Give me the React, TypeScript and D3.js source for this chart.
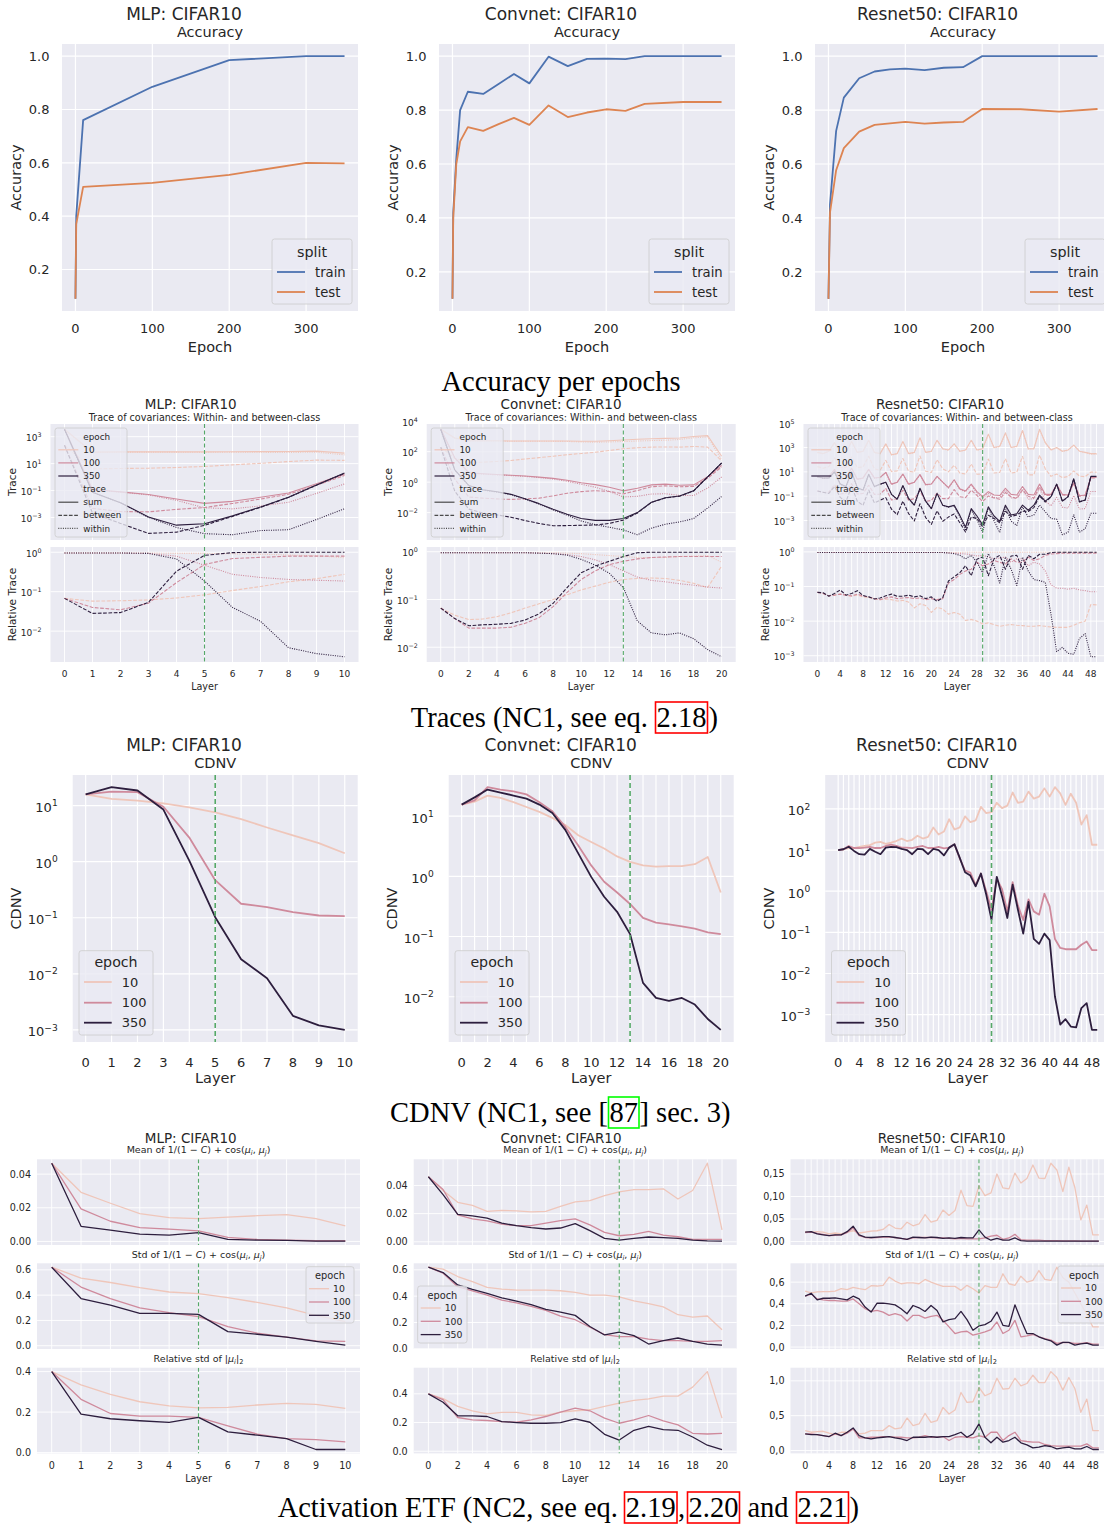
import React from "react";
import * as d3 from "d3";

/* ---------- page, colours, fonts ---------- */
const W = 1104;
const H = 1524;
const PANEL_BG = "#eaeaf2";
const INK = "#262626";
const EPOCH_COLORS = ["#efc6ba", "#cf8a9c", "#2d1e3e"];
const TRAIN_C = "#4c72b0";
const TEST_C = "#dd8452";
const MARK_C = "#55a868";
const STYLE_C = "#4a4a4a";
const SANS = "'DejaVu Sans', Verdana, sans-serif";
const SERIF = "'Liberation Serif', 'Times New Roman', serif";
const DASH = "3.7,1.6";
const DOT = "1,1.3";

/* ---------- legend labels ---------- */
const epochLevels = ["10", "100", "350"];
const splitNames = ["train", "test"];
const traceKinds = ["sum", "between", "within"];

/* ---------- accuracy per epoch ---------- */
const mlpEpochs = [0, 1, 10, 100, 200, 300, 350];
const mlpTrain = [0.09, 0.4, 0.76, 0.885, 0.985, 1.0, 1.0];
const mlpTest = [0.09, 0.37, 0.51, 0.525, 0.555, 0.6, 0.598];
const convEpochs = [0, 1, 5, 10, 20, 40, 60, 80, 100, 125, 150, 175, 200, 225, 250, 300, 350];
const convTrain = [0.1, 0.42, 0.62, 0.8, 0.868, 0.86, 0.897, 0.934, 0.899, 0.998, 0.963, 0.99, 0.991, 0.989, 1.0, 1.0, 1.0];
const convTest = [0.1, 0.4, 0.6, 0.684, 0.737, 0.723, 0.748, 0.771, 0.745, 0.817, 0.774, 0.791, 0.803, 0.797, 0.823, 0.83, 0.83];
const resEpochs = [0, 2, 10, 20, 40, 60, 80, 100, 125, 150, 175, 200, 250, 300, 350];
const resTrain = [0.1, 0.45, 0.723, 0.846, 0.918, 0.943, 0.951, 0.954, 0.948, 0.957, 0.959, 1.0, 1.0, 1.0, 1.0];
const resTest = [0.1, 0.42, 0.577, 0.659, 0.72, 0.745, 0.751, 0.756, 0.75, 0.754, 0.756, 0.804, 0.803, 0.794, 0.804];
const accYTicks = [0.2, 0.4, 0.6, 0.8, 1.0];
const accYLabels = ["0.2", "0.4", "0.6", "0.8", "1.0"];
const accXTicks = [0, 100, 200, 300];

/* ---------- layers ---------- */
const mlpLayers = d3.range(11);
const convLayers = d3.range(21);
const resLayers = d3.range(50);
const mlpLayerTicks = d3.range(0, 11, 1);
const convLayerTicks = d3.range(0, 21, 2);
const resLayerTicks = d3.range(0, 49, 4);

/* ---------- traces (log10 of trace) ---------- */
const mlpSum10 = [3.55, 1.85, 1.87, 1.87, 1.87, 1.87, 1.88, 1.89, 1.9, 1.93, 1.78];
const mlpBetween10 = [2.36, 0.61, 0.64, 0.66, 0.71, 0.79, 0.91, 1.02, 1.15, 1.26, 1.24];
const mlpWithin10 = [3.52, 1.83, 1.85, 1.85, 1.85, 1.84, 1.84, 1.84, 1.83, 1.85, 1.65];
const mlpSum100 = [3.55, -0.92, -1.1, -1.29, -1.63, -1.95, -1.8, -1.5, -1.18, -0.5, 0.22];
const mlpBetween100 = [2.36, -2.32, -2.56, -2.58, -2.4, -2.26, -1.96, -1.63, -1.28, -0.6, 0.12];
const mlpWithin100 = [3.52, -0.94, -1.12, -1.32, -1.73, -2.28, -2.36, -2.14, -1.87, -1.21, -0.51];
const mlpSum350 = [3.55, -1.12, -1.9, -2.96, -3.57, -3.47, -2.88, -2.22, -1.49, -0.58, 0.3];
const mlpBetween350 = [2.36, -2.67, -3.44, -4.18, -4.09, -3.58, -2.92, -2.25, -1.51, -0.6, 0.28];
const mlpWithin350 = [3.52, -1.13, -1.91, -2.99, -3.74, -4.2, -4.28, -3.97, -3.91, -3.15, -2.35];
const mlpRelBetween10 = [-1.17, -1.24, -1.23, -1.21, -1.16, -1.08, -0.97, -0.87, -0.75, -0.67, -0.56];
const mlpRelWithin10 = [-0.02, -0.02, -0.02, -0.02, -0.03, -0.03, -0.04, -0.05, -0.07, -0.09, -0.14];
const mlpRelBetween100 = [-1.17, -1.4, -1.46, -1.29, -0.77, -0.31, -0.16, -0.13, -0.1, -0.1, -0.1];
const mlpRelWithin100 = [-0.02, -0.02, -0.02, -0.03, -0.1, -0.33, -0.56, -0.64, -0.69, -0.71, -0.73];
const mlpRelBetween350 = [-1.17, -1.55, -1.53, -1.27, -0.48, -0.08, -0.01, 0, 0, 0, 0];
const mlpRelWithin350 = [-0.02, -0.02, -0.02, -0.03, -0.17, -0.73, -1.4, -1.75, -2.42, -2.57, -2.65];

const convSum10 = [3.47, 2.9, 2.72, 2.72, 2.72, 2.7, 2.7, 2.7, 2.7, 2.7, 2.68, 2.68, 2.72, 2.77, 2.82, 2.85, 2.87, 2.9, 3.0, 3.05, 1.7];
const convBetween10 = [2.29, 1.57, 1.3, 1.31, 1.36, 1.42, 1.52, 1.61, 1.7, 1.8, 1.88, 1.96, 2.08, 2.19, 2.26, 2.3, 2.31, 2.3, 2.34, 2.3, 1.4];
const convWithin10 = [3.45, 2.88, 2.7, 2.7, 2.7, 2.68, 2.68, 2.68, 2.68, 2.67, 2.64, 2.62, 2.64, 2.67, 2.7, 2.73, 2.75, 2.8, 2.91, 2.97, 1.48];
const convSum100 = [3.47, 1.6, 0.62, 0.55, 0.5, 0.45, 0.4, 0.33, 0.25, 0.12, -0.04, -0.16, -0.34, -0.57, -0.4, -0.18, -0.13, -0.2, -0.18, 0.35, 1.1];
const convBetween100 = [2.29, 0.2, -0.98, -1.05, -1.1, -1.13, -1.1, -1.05, -0.9, -0.73, -0.62, -0.56, -0.61, -0.77, -0.55, -0.3, -0.24, -0.3, -0.28, 0.25, 1.0];
const convWithin100 = [3.45, 1.58, 0.6, 0.53, 0.48, 0.43, 0.38, 0.3, 0.21, 0.06, -0.14, -0.33, -0.61, -0.97, -0.93, -0.78, -0.76, -0.87, -0.88, -0.39, 0.34];
const convSum350 = [3.47, 0.8, -0.22, -0.5, -0.63, -0.8, -1.09, -1.41, -1.78, -2.1, -2.39, -2.51, -2.51, -2.39, -2.0, -1.32, -1.02, -0.91, -0.57, 0.35, 1.26];
const convBetween350 = [2.29, -0.6, -1.77, -2.03, -2.15, -2.3, -2.52, -2.71, -2.86, -2.85, -2.83, -2.81, -2.71, -2.49, -2.02, -1.33, -1.03, -0.92, -0.58, 0.34, 1.25];
const convWithin350 = [3.45, 0.78, -0.24, -0.52, -0.65, -0.82, -1.11, -1.44, -1.82, -2.17, -2.55, -2.79, -2.96, -3.14, -3.45, -3.02, -2.76, -2.61, -2.39, -1.7, -0.94];
const convRelBetween10 = [-1.18, -1.33, -1.42, -1.41, -1.36, -1.28, -1.18, -1.09, -1.0, -0.9, -0.8, -0.72, -0.64, -0.58, -0.56, -0.55, -0.56, -0.6, -0.66, -0.75, -0.3];
const convRelWithin10 = [-0.02, -0.02, -0.02, -0.02, -0.02, -0.02, -0.02, -0.02, -0.02, -0.03, -0.04, -0.06, -0.08, -0.1, -0.12, -0.12, -0.12, -0.1, -0.09, -0.08, -0.22];
const convRelBetween100 = [-1.18, -1.4, -1.6, -1.6, -1.6, -1.58, -1.5, -1.38, -1.15, -0.85, -0.58, -0.4, -0.27, -0.2, -0.15, -0.12, -0.11, -0.1, -0.1, -0.1, -0.1];
const convRelWithin100 = [-0.02, -0.02, -0.02, -0.02, -0.02, -0.02, -0.02, -0.03, -0.04, -0.06, -0.1, -0.17, -0.27, -0.4, -0.53, -0.6, -0.63, -0.67, -0.7, -0.74, -0.76];
const convRelBetween350 = [-1.18, -1.4, -1.55, -1.53, -1.52, -1.5, -1.43, -1.3, -1.08, -0.75, -0.44, -0.3, -0.2, -0.1, -0.02, -0.01, -0.01, -0.01, -0.01, -0.01, -0.01];
const convRelWithin350 = [-0.02, -0.02, -0.02, -0.02, -0.02, -0.02, -0.02, -0.03, -0.04, -0.07, -0.16, -0.28, -0.45, -0.75, -1.45, -1.7, -1.74, -1.7, -1.82, -2.05, -2.2];

const resSum10 = [2.6, 2.5, 2.7, 3.4, 2.6, 2.6, 3.5, 2.6, 2.7, 3.6, 2.6, 2.5, 3.3, 2.4, 2.5, 3.5, 2.5, 2.6, 3.8, 2.6, 2.7, 3.6, 2.9, 2.8, 3.3, 2.7, 2.8, 3.6, 2.8, 2.9, 4.1, 3.0, 3.1, 4.2, 3.0, 3.1, 4.4, 2.9, 2.9, 4.5, 3.4, 2.8, 3.0, 2.7, 2.8, 3.2, 2.7, 2.6, 2.5, 2.5];
const resBetween10 = [1.43, 1.3, 1.43, 2.15, 1.38, 1.35, 2.22, 1.35, 1.4, 2.28, 1.25, 1.12, 1.94, 1.02, 1.08, 2.1, 1.05, 0.98, 2.3, 1.05, 0.95, 2.0, 1.25, 1.0, 1.55, 0.9, 0.82, 1.65, 0.8, 0.82, 2.05, 0.9, 0.95, 2.08, 0.9, 0.98, 2.27, 0.75, 0.75, 2.37, 1.25, 0.63, 0.82, 0.52, 0.62, 1.08, 0.65, 0.6, 0.98, 0.97];
const resWithin10 = [2.58, 2.48, 2.68, 3.38, 2.58, 2.58, 3.48, 2.58, 2.68, 3.58, 2.58, 2.48, 3.28, 2.38, 2.48, 3.48, 2.48, 2.58, 3.78, 2.58, 2.68, 3.58, 2.88, 2.78, 3.28, 2.68, 2.78, 3.58, 2.78, 2.88, 4.08, 2.98, 3.08, 4.18, 2.98, 3.08, 4.38, 2.88, 2.88, 4.48, 3.38, 2.78, 2.98, 2.68, 2.78, 3.18, 2.68, 2.58, 2.45, 2.45];
const resSum100 = [0.6, 0.5, 0.6, 1.2, 0.4, 0.5, 1.3, 0.4, 0.5, 1.2, 0.5, 0.55, 0.96, -0.01, 0.15, 0.82, -0.01, 0.15, 0.77, -0.05, 0.0, 0.63, 0.15, -0.3, 0.35, -0.4, -0.57, -0.01, -0.63, -1.04, -0.63, -0.9, -0.95, -0.35, -0.85, -0.9, -0.21, -0.85, -0.9, -0.01, -0.85, -0.85, -0.05, -0.85, -0.9, 0.1, -0.96, -0.9, 0.54, 0.54];
const resBetween100 = [-0.57, -0.7, -0.67, -0.05, -0.82, -0.75, 0.03, -0.82, -0.78, -0.1, -0.85, -0.83, -0.37, -1.31, -1.2, -0.51, -1.33, -1.2, -0.56, -1.43, -1.35, -0.75, -1.2, -1.2, -0.45, -1.05, -1.12, -0.51, -0.93, -1.44, -0.98, -1.15, -1.25, -0.7, -1.05, -1.2, -0.51, -1.0, -1.15, -0.21, -0.95, -0.91, -0.1, -0.89, -0.94, 0.06, -1.0, -0.94, 0.5, 0.5];
const resWithin100 = [0.58, 0.48, 0.58, 1.18, 0.38, 0.48, 1.28, 0.38, 0.48, 1.18, 0.48, 0.53, 0.94, -0.03, 0.13, 0.8, -0.03, 0.13, 0.75, -0.07, -0.02, 0.61, 0.13, -0.33, 0.31, -0.45, -0.63, -0.09, -0.75, -1.14, -0.78, -1.1, -1.13, -0.5, -1.15, -1.1, -0.41, -1.25, -1.2, -0.36, -1.4, -1.8, -1.1, -1.9, -1.98, -0.95, -2.06, -2.02, -0.61, -0.61];
const resSum350 = [0.6, 0.5, 0.5, 1.0, 0.0, -0.2, 1.0, -0.3, -0.5, 0.8, -0.2, -0.01, 0.15, -0.85, -1.24, -0.13, -1.18, -1.74, -0.35, -1.41, -2.02, -0.77, -1.74, -1.88, -1.74, -2.58, -3.55, -2.02, -2.63, -3.36, -1.88, -2.63, -3.08, -1.74, -2.55, -2.44, -1.74, -2.16, -1.74, -0.91, -1.41, -1.04, -0.01, -1.41, -1.04, 0.43, -1.46, -1.32, 0.63, 0.63];
const resBetween350 = [-0.57, -0.68, -0.78, -0.2, -1.1, -1.45, -0.2, -1.42, -1.76, -0.5, -1.56, -1.34, -1.12, -2.07, -2.52, -1.41, -2.43, -3.04, -1.62, -2.76, -3.32, -2.2, -3.06, -2.72, -2.46, -3.18, -3.95, -2.71, -2.84, -3.51, -2.57, -2.83, -3.18, -2.24, -2.67, -2.54, -2.24, -2.26, -1.94, -0.98, -1.48, -1.06, -0.02, -1.42, -1.05, 0.42, -1.47, -1.33, 0.62, 0.62];
const resWithin350 = [0.58, 0.48, 0.48, 0.98, -0.02, -0.22, 0.98, -0.32, -0.52, 0.78, -0.22, -0.03, 0.13, -0.87, -1.26, -0.15, -1.2, -1.76, -0.37, -1.43, -2.04, -0.79, -1.76, -1.91, -1.79, -2.68, -3.75, -2.12, -2.93, -3.96, -1.93, -3.03, -3.98, -1.89, -3.05, -3.41, -1.89, -2.71, -2.54, -1.74, -2.29, -2.84, -2.89, -4.17, -3.97, -2.53, -3.96, -3.68, -2.4, -2.4];
const resRelBetween10 = [-1.17, -1.2, -1.27, -1.25, -1.22, -1.25, -1.28, -1.25, -1.3, -1.32, -1.35, -1.38, -1.36, -1.38, -1.42, -1.4, -1.45, -1.62, -1.5, -1.55, -1.75, -1.6, -1.65, -1.8, -1.75, -1.8, -1.98, -1.95, -2.0, -2.08, -2.05, -2.1, -2.15, -2.12, -2.1, -2.12, -2.13, -2.15, -2.15, -2.13, -2.15, -2.17, -2.18, -2.18, -2.18, -2.12, -2.05, -2.0, -1.52, -1.53];
const resRelWithin10 = [-0.02, -0.02, -0.02, -0.02, -0.02, -0.02, -0.02, -0.02, -0.02, -0.02, -0.02, -0.02, -0.02, -0.02, -0.02, -0.02, -0.02, -0.02, -0.02, -0.02, -0.02, -0.02, -0.02, -0.02, -0.02, -0.02, -0.01, -0.01, -0.01, -0.01, -0.01, -0.01, -0.01, -0.01, -0.01, -0.01, -0.01, -0.01, -0.01, -0.01, -0.01, -0.01, -0.01, -0.01, -0.01, -0.01, -0.01, -0.01, -0.02, -0.02];
const resRelBetween100 = [-1.17, -1.2, -1.27, -1.25, -1.22, -1.25, -1.27, -1.22, -1.28, -1.3, -1.35, -1.38, -1.33, -1.3, -1.35, -1.33, -1.32, -1.35, -1.33, -1.38, -1.35, -1.38, -1.35, -0.9, -0.8, -0.65, -0.55, -0.5, -0.3, -0.4, -0.35, -0.25, -0.3, -0.35, -0.2, -0.3, -0.3, -0.15, -0.25, -0.2, -0.1, -0.06, -0.05, -0.04, -0.04, -0.04, -0.04, -0.04, -0.04, -0.04];
const resRelWithin100 = [-0.02, -0.02, -0.02, -0.02, -0.02, -0.02, -0.02, -0.02, -0.02, -0.02, -0.02, -0.02, -0.02, -0.02, -0.02, -0.02, -0.02, -0.02, -0.02, -0.02, -0.02, -0.02, -0.02, -0.03, -0.04, -0.05, -0.06, -0.08, -0.12, -0.1, -0.15, -0.2, -0.18, -0.15, -0.3, -0.2, -0.2, -0.4, -0.3, -0.35, -0.55, -0.95, -1.05, -1.05, -1.08, -1.05, -1.1, -1.12, -1.15, -1.15];
const resRelBetween350 = [-1.17, -1.18, -1.28, -1.2, -1.1, -1.25, -1.2, -1.12, -1.26, -1.3, -1.36, -1.33, -1.27, -1.22, -1.28, -1.28, -1.25, -1.3, -1.27, -1.35, -1.3, -1.43, -1.32, -0.84, -0.72, -0.6, -0.4, -0.69, -0.21, -0.15, -0.69, -0.2, -0.1, -0.5, -0.12, -0.1, -0.5, -0.1, -0.2, -0.07, -0.07, -0.02, -0.01, -0.01, -0.01, -0.01, -0.01, -0.01, -0.01, -0.01];
const resRelWithin350 = [-0.02, -0.02, -0.02, -0.02, -0.02, -0.02, -0.02, -0.02, -0.02, -0.02, -0.02, -0.02, -0.02, -0.02, -0.02, -0.02, -0.02, -0.02, -0.02, -0.02, -0.02, -0.02, -0.02, -0.03, -0.05, -0.1, -0.2, -0.1, -0.3, -0.6, -0.05, -0.4, -0.9, -0.15, -0.5, -0.97, -0.15, -0.55, -0.8, -0.83, -0.88, -1.8, -2.88, -2.76, -2.93, -2.96, -2.5, -2.36, -3.03, -3.03];

const mlpTraceExp = [3, 1, -1, -3];
const convTraceExp = [4, 2, 0, -2];
const resTraceExp = [5, 3, 1, -1, -3];
const mlpRelExp = [0, -1, -2];
const convRelExp = [0, -1, -2];
const resRelExp = [0, -1, -2, -3];

/* ---------- CDNV (log10) ---------- */
const mlpCdnv10 = [1.2, 1.12, 1.09, 1.04, 0.97, 0.88, 0.76, 0.61, 0.47, 0.33, 0.15];
const mlpCdnv100 = [1.2, 1.25, 1.24, 0.98, 0.43, -0.33, -0.75, -0.81, -0.9, -0.96, -0.97];
const mlpCdnv350 = [1.2, 1.33, 1.27, 0.93, 0.02, -0.99, -1.74, -2.08, -2.75, -2.92, -3.0];
const convCdnv10 = [1.19, 1.24, 1.34, 1.3, 1.23, 1.15, 1.07, 0.97, 0.85, 0.68, 0.57, 0.46, 0.33, 0.24, 0.18, 0.16, 0.17, 0.17, 0.2, 0.32, -0.27];
const convCdnv100 = [1.19, 1.26, 1.48, 1.44, 1.41, 1.36, 1.23, 1.08, 0.82, 0.51, 0.18, -0.09, -0.27, -0.46, -0.69, -0.77, -0.8, -0.83, -0.87, -0.93, -0.96];
const convCdnv350 = [1.19, 1.31, 1.44, 1.39, 1.34, 1.29, 1.19, 1.05, 0.77, 0.38, -0.01, -0.34, -0.59, -0.96, -1.77, -2.02, -2.07, -2.02, -2.13, -2.37, -2.55];
const resCdnv10 = [1.0, 1.02, 1.05, 1.05, 1.08, 1.1, 1.12, 1.18, 1.2, 1.15, 1.18, 1.22, 1.28, 1.22, 1.25, 1.35, 1.28, 1.32, 1.55, 1.38, 1.45, 1.75, 1.5, 1.55, 1.82, 1.68, 1.72, 2.05, 1.9, 1.92, 2.15, 2.02, 2.08, 2.4, 2.15, 2.18, 2.42, 2.25, 2.3, 2.5, 2.3, 2.53, 2.38, 2.1, 2.37, 2.15, 1.62, 1.85, 1.13, 1.13];
const resCdnv100 = [1.0, 1.02, 1.1, 1.05, 1.05, 1.06, 1.08, 1.05, 1.05, 1.1, 1.13, 1.1, 1.06, 1.06, 1.05, 1.08, 1.1, 1.05, 1.05, 1.08, 1.04, 1.06, 1.14, 0.8, 0.5, 0.45, 0.15, 0.43, 0.0, -0.45, 0.3, 0.05, -0.5, 0.22, -0.35, -0.7, -0.2, -0.49, -0.57, -0.06, -0.37, -1.16, -1.38, -1.41, -1.41, -1.41, -1.3, -1.22, -1.43, -1.43];
const resCdnv350 = [1.0, 1.02, 1.08, 0.98, 0.9, 0.89, 1.03, 0.96, 0.9, 1.06, 1.08, 1.07, 1.03, 1.0, 0.9, 1.03, 1.02, 0.9, 1.03, 1.0, 0.87, 1.06, 1.14, 0.81, 0.46, 0.38, 0.12, 0.43, -0.08, -0.69, 0.35, -0.12, -0.65, 0.16, -0.45, -1.03, -0.26, -1.16, -1.28, -1.03, -1.19, -2.56, -3.24, -3.11, -3.29, -3.31, -2.84, -2.72, -3.37, -3.37];
const mlpCdnvExp = [1, 0, -1, -2, -3];
const convCdnvExp = [1, 0, -1, -2];
const resCdnvExp = [2, 1, 0, -1, -2, -3];

/* ---------- activation ETF ---------- */
const mlpMean10 = [0.0465, 0.0292, 0.0227, 0.0165, 0.0141, 0.0135, 0.0145, 0.0153, 0.0159, 0.0135, 0.0092];
const mlpMean100 = [0.0465, 0.0194, 0.012, 0.0082, 0.0073, 0.0063, 0.0024, 0.0012, 0.0008, 0.0004, 0.0004];
const mlpMean350 = [0.0465, 0.009, 0.0067, 0.0043, 0.0037, 0.0053, 0.0012, 0.0008, 0.0006, 0.0002, 0.0002];
const mlpStd10 = [0.621, 0.535, 0.5, 0.459, 0.425, 0.412, 0.381, 0.342, 0.3, 0.24, 0.19];
const mlpStd100 = [0.621, 0.464, 0.373, 0.3, 0.261, 0.23, 0.151, 0.099, 0.068, 0.039, 0.034];
const mlpStd350 = [0.621, 0.373, 0.321, 0.256, 0.256, 0.248, 0.112, 0.091, 0.068, 0.034, 0.005];
const mlpNorm10 = [0.4, 0.334, 0.288, 0.251, 0.231, 0.221, 0.223, 0.235, 0.243, 0.238, 0.218];
const mlpNorm100 = [0.4, 0.263, 0.193, 0.18, 0.18, 0.174, 0.132, 0.091, 0.069, 0.064, 0.053];
const mlpNorm350 = [0.4, 0.19, 0.167, 0.157, 0.149, 0.174, 0.102, 0.086, 0.069, 0.015, 0.015];

const convMean10 = [0.0462, 0.0364, 0.028, 0.0259, 0.0216, 0.0223, 0.022, 0.0213, 0.0216, 0.0251, 0.0283, 0.0292, 0.0328, 0.0354, 0.0371, 0.0371, 0.0376, 0.0304, 0.0364, 0.0558, 0.0084];
const convMean100 = [0.0462, 0.0371, 0.0192, 0.0163, 0.0149, 0.0125, 0.0115, 0.0115, 0.0132, 0.0151, 0.0163, 0.012, 0.0067, 0.0043, 0.0053, 0.0074, 0.0048, 0.0036, 0.0017, 0.0017, 0.0017];
const convMean350 = [0.0462, 0.0335, 0.0194, 0.0184, 0.0168, 0.0132, 0.0115, 0.0101, 0.0091, 0.0098, 0.0129, 0.0079, 0.0024, 0.0012, 0.0024, 0.0034, 0.0029, 0.0024, 0.0012, 0.0007, 0.0005];
const convStd10 = [0.62, 0.605, 0.549, 0.51, 0.467, 0.454, 0.446, 0.446, 0.446, 0.441, 0.428, 0.408, 0.408, 0.395, 0.364, 0.344, 0.318, 0.259, 0.241, 0.249, 0.144];
const convStd100 = [0.62, 0.574, 0.472, 0.441, 0.408, 0.369, 0.349, 0.323, 0.292, 0.249, 0.221, 0.164, 0.108, 0.092, 0.092, 0.074, 0.062, 0.062, 0.056, 0.056, 0.062];
const convStd350 = [0.62, 0.579, 0.485, 0.451, 0.421, 0.387, 0.362, 0.336, 0.3, 0.279, 0.254, 0.169, 0.105, 0.126, 0.1, 0.036, 0.062, 0.082, 0.056, 0.036, 0.028];
const convNorm10 = [0.4, 0.367, 0.313, 0.282, 0.261, 0.271, 0.271, 0.254, 0.249, 0.273, 0.282, 0.289, 0.313, 0.336, 0.355, 0.365, 0.384, 0.384, 0.447, 0.555, 0.231];
const convNorm100 = [0.4, 0.36, 0.235, 0.219, 0.214, 0.207, 0.202, 0.219, 0.242, 0.273, 0.301, 0.282, 0.231, 0.195, 0.219, 0.249, 0.212, 0.184, 0.125, 0.12, 0.125];
const convNorm350 = [0.4, 0.341, 0.247, 0.247, 0.242, 0.207, 0.2, 0.195, 0.195, 0.2, 0.226, 0.202, 0.118, 0.078, 0.146, 0.174, 0.151, 0.146, 0.099, 0.042, 0.012];

const resMean10 = [0.022, 0.021, 0.022, 0.021, 0.017, 0.019, 0.017, 0.021, 0.024, 0.019, 0.021, 0.023, 0.024, 0.027, 0.038, 0.03, 0.028, 0.043, 0.035, 0.039, 0.06, 0.043, 0.047, 0.07, 0.058, 0.069, 0.114, 0.08, 0.078, 0.124, 0.102, 0.108, 0.15, 0.119, 0.117, 0.152, 0.13, 0.14, 0.17, 0.141, 0.14, 0.174, 0.159, 0.111, 0.165, 0.12, 0.048, 0.081, 0.015, 0.015];
const resMean100 = [0.02, 0.021, 0.018, 0.016, 0.013, 0.014, 0.015, 0.02, 0.03, 0.013, 0.009, 0.008, 0.009, 0.01, 0.01, 0.009, 0.007, 0.005, 0.008, 0.009, 0.009, 0.009, 0.008, 0.008, 0.007, 0.006, 0.007, 0.006, 0.006, 0.006, 0.008, 0.012, 0.014, 0.005, 0.008, 0.016, 0.004, 0.003, 0.003, 0.003, 0.002, 0.002, 0.002, 0.0015, 0.0015, 0.0015, 0.001, 0.001, 0.001, 0.001];
const resMean350 = [0.021, 0.022, 0.017, 0.015, 0.013, 0.015, 0.015, 0.022, 0.034, 0.015, 0.01, 0.009, 0.01, 0.011, 0.011, 0.009, 0.007, 0.005, 0.01, 0.009, 0.008, 0.01, 0.009, 0.007, 0.008, 0.007, 0.009, 0.008, 0.008, 0.026, 0.01, 0.003, 0.007, 0.003, 0.003, 0.008, 0.002, 0.001, 0.001, 0.001, 0.001, 0.001, 0.001, 0.001, 0.001, 0.001, 0.001, 0.001, 0.001, 0.001];
const resStd10 = [0.517, 0.5, 0.509, 0.512, 0.512, 0.517, 0.539, 0.53, 0.552, 0.539, 0.53, 0.567, 0.564, 0.57, 0.646, 0.61, 0.585, 0.594, 0.594, 0.585, 0.625, 0.6, 0.58, 0.561, 0.561, 0.561, 0.524, 0.57, 0.539, 0.5, 0.567, 0.552, 0.552, 0.677, 0.585, 0.57, 0.655, 0.6, 0.616, 0.707, 0.625, 0.616, 0.738, 0.64, 0.6, 0.5, 0.4, 0.3, 0.186, 0.186];
const resStd100 = [0.47, 0.49, 0.445, 0.436, 0.43, 0.43, 0.424, 0.424, 0.445, 0.4, 0.354, 0.329, 0.338, 0.323, 0.293, 0.308, 0.293, 0.241, 0.293, 0.293, 0.268, 0.284, 0.293, 0.247, 0.186, 0.125, 0.14, 0.146, 0.11, 0.125, 0.14, 0.162, 0.232, 0.125, 0.155, 0.247, 0.095, 0.104, 0.116, 0.095, 0.079, 0.064, 0.034, 0.043, 0.04, 0.034, 0.034, 0.04, 0.027, 0.027];
const resStd350 = [0.47, 0.497, 0.436, 0.451, 0.451, 0.454, 0.445, 0.436, 0.47, 0.445, 0.369, 0.323, 0.405, 0.405, 0.399, 0.39, 0.354, 0.308, 0.384, 0.363, 0.329, 0.384, 0.338, 0.232, 0.253, 0.262, 0.329, 0.253, 0.155, 0.195, 0.207, 0.238, 0.323, 0.201, 0.192, 0.39, 0.253, 0.125, 0.125, 0.095, 0.073, 0.058, 0.018, 0.043, 0.043, 0.018, 0.03, 0.036, 0.018, 0.018];
const resNorm10 = [0.286, 0.262, 0.271, 0.276, 0.248, 0.229, 0.262, 0.262, 0.31, 0.238, 0.248, 0.286, 0.286, 0.286, 0.357, 0.31, 0.324, 0.467, 0.357, 0.381, 0.533, 0.405, 0.429, 0.619, 0.524, 0.581, 0.833, 0.69, 0.7, 0.905, 0.786, 0.824, 1.038, 0.881, 0.89, 1.038, 0.929, 0.962, 1.081, 0.976, 0.976, 1.133, 1.048, 0.867, 1.048, 0.89, 0.548, 0.738, 0.286, 0.286];
const resNorm100 = [0.238, 0.238, 0.229, 0.214, 0.2, 0.238, 0.214, 0.248, 0.31, 0.181, 0.181, 0.19, 0.19, 0.2, 0.2, 0.19, 0.19, 0.181, 0.181, 0.19, 0.214, 0.19, 0.19, 0.2, 0.143, 0.19, 0.2, 0.19, 0.181, 0.214, 0.19, 0.262, 0.262, 0.143, 0.214, 0.262, 0.143, 0.129, 0.119, 0.119, 0.086, 0.071, 0.062, 0.062, 0.062, 0.062, 0.062, 0.095, 0.038, 0.038];
const resNorm350 = [0.238, 0.229, 0.229, 0.214, 0.2, 0.248, 0.214, 0.262, 0.324, 0.214, 0.181, 0.167, 0.181, 0.19, 0.2, 0.181, 0.167, 0.143, 0.19, 0.19, 0.19, 0.2, 0.19, 0.2, 0.2, 0.229, 0.262, 0.19, 0.238, 0.381, 0.19, 0.11, 0.19, 0.119, 0.143, 0.19, 0.11, 0.081, 0.038, 0.048, 0.071, 0.057, 0.024, 0.038, 0.048, 0.024, 0.024, 0.057, 0.014, 0.014];

const meanTicks = [0, 0.02, 0.04];
const meanLabels = ["0.00", "0.02", "0.04"];
const resMeanTicks = [0, 0.05, 0.1, 0.15];
const resMeanLabels = ["0,00", "0,05", "0,10", "0,15"];
const stdTicks = [0, 0.2, 0.4, 0.6];
const stdLabels = ["0.0", "0.2", "0.4", "0.6"];
const resStdLabels = ["0,0", "0,2", "0,4", "0,6"];
const normTicks = [0, 0.2, 0.4];
const normLabels = ["0.0", "0.2", "0.4"];
const resNormTicks = [0, 0.5, 1.0];
const resNormLabels = ["0,0", "0,5", "1,0"];

/* ---------- generic axes ---------- */
type Series = { xs: number[]; ys: number[]; color: string; width: number; dash?: string };

type AxesSpec = {
  id: string;
  left: number;
  top: number;
  width: number;
  height: number;
  series: Series[];
  log?: boolean;
  xGrid: number[];
  yTicks: number[];
  yTickLabels?: string[];
  tickFs: number;
  tickGap: number;
  gridW: number;
  xTicks?: number[];
  xTickY?: number;
  marker?: number;
  markerW?: number;
  markerDash?: string;
  yLabel?: string;
  yLabelX?: number;
  yLabelFs?: number;
};

const fmtExp = (e: number) => (e < 0 ? "\u2212" + Math.abs(e) : String(e));
const p10 = (e: number) => Math.pow(10, e);

function Axes({ s }: { s: AxesSpec }) {
  const right = s.left + s.width;
  const bottom = s.top + s.height;
  const allX = s.series.flatMap((d) => d.xs);
  const [xa, xb] = d3.extent(allX) as [number, number];
  const xp = (xb - xa) * 0.05;
  const x = d3.scaleLinear().domain([xa - xp, xb + xp]).range([s.left, right]);
  const allY = s.series.flatMap((d) => d.ys);
  let y: (v: number) => number;
  if (s.log) {
    const [a, b] = d3.extent(allY.map((v) => Math.log10(v))) as [number, number];
    const p = (b - a) * 0.05;
    const sc = d3.scaleLog().domain([p10(a - p), p10(b + p)]).range([bottom, s.top]);
    y = (v) => sc(v);
  } else {
    const [a, b] = d3.extent(allY) as [number, number];
    const p = (b - a) * 0.05;
    const sc = d3.scaleLinear().domain([a - p, b + p]).range([bottom, s.top]);
    y = (v) => sc(v);
  }
  const tickPos = (t: number) => (s.log ? y(p10(t)) : y(t));
  const path = d3
    .line<[number, number]>()
    .x((d) => x(d[0]))
    .y((d) => y(d[1]));
  const fs = s.tickFs;
  return (
    <g>
      <defs>
        <clipPath id={s.id}>
          <rect x={s.left} y={s.top} width={s.width} height={s.height} />
        </clipPath>
      </defs>
      <rect x={s.left} y={s.top} width={s.width} height={s.height} fill={PANEL_BG} />
      {s.xGrid.map((g) => (
        <line key={"gx" + g} x1={x(g)} x2={x(g)} y1={s.top} y2={bottom} stroke="#fff" strokeWidth={s.gridW} />
      ))}
      {s.yTicks.map((t) => (
        <line key={"gy" + t} x1={s.left} x2={right} y1={tickPos(t)} y2={tickPos(t)} stroke="#fff" strokeWidth={s.gridW} />
      ))}
      <g clipPath={`url(#${s.id})`}>
        {s.series.map((d, i) => (
          <path
            key={i}
            d={path(d.xs.map((v, j) => [v, d.ys[j]] as [number, number])) || ""}
            fill="none"
            stroke={d.color}
            strokeWidth={d.width}
            strokeDasharray={d.dash}
            strokeLinejoin="round"
          />
        ))}
        {s.marker !== undefined && (
          <line
            x1={x(s.marker)}
            x2={x(s.marker)}
            y1={s.top}
            y2={bottom}
            stroke={MARK_C}
            strokeWidth={s.markerW}
            strokeDasharray={s.markerDash}
          />
        )}
      </g>
      {s.yTicks.map((t, i) =>
        s.log ? (
          <text key={"yl" + i} x={s.left - s.tickGap} y={tickPos(t) + fs * 0.5} textAnchor="end" fontSize={fs} fill={INK}>
            10
            <tspan dy={-fs * 0.45} fontSize={fs * 0.7}>
              {fmtExp(t)}
            </tspan>
          </text>
        ) : (
          <text key={"yl" + i} x={s.left - s.tickGap} y={tickPos(t) + fs * 0.36} textAnchor="end" fontSize={fs} fill={INK}>
            {s.yTickLabels ? s.yTickLabels[i] : String(t)}
          </text>
        )
      )}
      {s.xTicks &&
        s.xTicks.map((t) => (
          <text key={"xl" + t} x={x(t)} y={s.xTickY} textAnchor="middle" fontSize={fs} fill={INK}>
            {t}
          </text>
        ))}
      {s.yLabel && (
        <text
          transform={`translate(${s.yLabelX},${(s.top + bottom) / 2}) rotate(-90)`}
          textAnchor="middle"
          dy="0.36em"
          fontSize={s.yLabelFs}
          fill={INK}
        >
          {s.yLabel}
        </text>
      )}
    </g>
  );
}

/* ---------- legend ---------- */
type LegendRow = { label: string; color?: string; dash?: string; heading?: boolean; centered?: boolean };

function Legend(props: {
  x: number;
  y: number;
  w: number;
  h: number;
  rows: LegendRow[];
  rowY: number[];
  lineX: [number, number];
  textX: number;
  fs: number;
  headFs: number;
  lineW: number;
}) {
  const { x, y, w, h, rows, rowY, lineX, textX, fs, headFs, lineW } = props;
  return (
    <g>
      <rect x={x} y={y} width={w} height={h} rx={2.5} fill={PANEL_BG} fillOpacity={0.8} stroke="#cccccc" strokeWidth={0.8} />
      {rows.map((r, i) => {
        const cy = y + rowY[i];
        const size = r.heading ? headFs : fs;
        return (
          <g key={i}>
            {r.color && (
              <line x1={x + lineX[0]} x2={x + lineX[1]} y1={cy} y2={cy} stroke={r.color} strokeWidth={lineW} strokeDasharray={r.dash} />
            )}
            <text
              x={r.centered ? x + w / 2 : x + textX}
              y={cy + size * 0.36}
              textAnchor={r.centered ? "middle" : "start"}
              fontSize={size}
              fill={INK}
            >
              {r.label}
            </text>
          </g>
        );
      })}
    </g>
  );
}

/* ---------- accuracy row ---------- */
const accPanels = [
  { key: "mlp", name: "MLP: CIFAR10", left: 62, supX: 184, ep: mlpEpochs, tr: mlpTrain, te: mlpTest },
  { key: "conv", name: "Convnet: CIFAR10", left: 439, supX: 561, ep: convEpochs, tr: convTrain, te: convTest },
  { key: "res", name: "Resnet50: CIFAR10", left: 815, supX: 937.5, ep: resEpochs, tr: resTrain, te: resTest },
];

function AccuracyRow() {
  const top = 44;
  const w = 296;
  const h = 267;
  return (
    <g>
      {accPanels.map((p) => {
        const spec: AxesSpec = {
          id: "acc-" + p.key,
          left: p.left,
          top,
          width: w,
          height: h,
          series: [
            { xs: p.ep, ys: p.tr, color: TRAIN_C, width: 1.8 },
            { xs: p.ep, ys: p.te, color: TEST_C, width: 1.8 },
          ],
          xGrid: accXTicks,
          yTicks: accYTicks,
          yTickLabels: accYLabels,
          tickFs: 13,
          tickGap: 12.5,
          gridW: 1.2,
          xTicks: accXTicks,
          xTickY: 333,
          yLabel: "Accuracy",
          yLabelX: p.left - 46.5,
          yLabelFs: 14.5,
        };
        const lx = p.left + 210;
        return (
          <g key={p.key}>
            <text x={p.supX} y={20} textAnchor="middle" fontSize={17} fill={INK}>
              {p.name}
            </text>
            <text x={p.left + w / 2} y={36.5} textAnchor="middle" fontSize={14.5} fill={INK}>
              Accuracy
            </text>
            <Axes s={spec} />
            <text x={p.left + w / 2} y={352} textAnchor="middle" fontSize={14.5} fill={INK}>
              Epoch
            </text>
            <Legend
              x={lx}
              y={239}
              w={80}
              h={65}
              rows={[
                { label: "split", heading: true, centered: true },
                { label: splitNames[0], color: TRAIN_C },
                { label: splitNames[1], color: TEST_C },
              ]}
              rowY={[13, 33, 53]}
              lineX={[5, 33]}
              textX={43}
              fs={13.2}
              headFs={14.3}
              lineW={1.8}
            />
          </g>
        );
      })}
    </g>
  );
}

/* ---------- traces row ---------- */
type TraceSet = number[][];
const trPanels = [
  {
    key: "mlp", name: "MLP: CIFAR10", left: 50.5, width: 308, supX: 190.7, layers: mlpLayers, ticks: mlpLayerTicks, mark: 5,
    sum: [mlpSum10, mlpSum100, mlpSum350], between: [mlpBetween10, mlpBetween100, mlpBetween350], within: [mlpWithin10, mlpWithin100, mlpWithin350],
    relB: [mlpRelBetween10, mlpRelBetween100, mlpRelBetween350], relW: [mlpRelWithin10, mlpRelWithin100, mlpRelWithin350],
    topExp: mlpTraceExp, relExp: mlpRelExp,
  },
  {
    key: "conv", name: "Convnet: CIFAR10", left: 426.7, width: 309, supX: 561, layers: convLayers, ticks: convLayerTicks, mark: 13,
    sum: [convSum10, convSum100, convSum350], between: [convBetween10, convBetween100, convBetween350], within: [convWithin10, convWithin100, convWithin350],
    relB: [convRelBetween10, convRelBetween100, convRelBetween350], relW: [convRelWithin10, convRelWithin100, convRelWithin350],
    topExp: convTraceExp, relExp: convRelExp,
  },
  {
    key: "res", name: "Resnet50: CIFAR10", left: 803.5, width: 307, supX: 940, layers: resLayers, ticks: resLayerTicks, mark: 29,
    sum: [resSum10, resSum100, resSum350], between: [resBetween10, resBetween100, resBetween350], within: [resWithin10, resWithin100, resWithin350],
    relB: [resRelBetween10, resRelBetween100, resRelBetween350], relW: [resRelWithin10, resRelWithin100, resRelWithin350],
    topExp: resTraceExp, relExp: resRelExp,
  },
];

function traceSeries(xs: number[], groups: { sets: TraceSet; dash?: string }[]): Series[] {
  const out: Series[] = [];
  for (let i = 0; i < 3; i++) {
    for (const g of groups) {
      out.push({ xs, ys: g.sets[i].map(p10), color: EPOCH_COLORS[i], width: 1.1, dash: g.dash });
    }
  }
  return out;
}

function TraceRow() {
  const topA = 424;
  const hA = 116;
  const topB = 547;
  const hB = 115;
  return (
    <g>
      {trPanels.map((p) => {
        const common = {
          left: p.left,
          width: p.width,
          xGrid: p.layers,
          tickFs: 9,
          tickGap: 9,
          gridW: 0.9,
          log: true,
          marker: p.mark,
          markerW: 1.1,
          markerDash: "4,2.5",
          yLabelX: p.left - 38,
          yLabelFs: 10.5,
        };
        const upper: AxesSpec = {
          ...common,
          id: "tr-a-" + p.key,
          top: topA,
          height: hA,
          series: traceSeries(p.layers, [{ sets: p.sum }, { sets: p.between, dash: DASH }, { sets: p.within, dash: DOT }]),
          yTicks: p.topExp,
          yLabel: "Trace",
        };
        const lower: AxesSpec = {
          ...common,
          id: "tr-b-" + p.key,
          top: topB,
          height: hB,
          series: traceSeries(p.layers, [{ sets: p.relB, dash: DASH }, { sets: p.relW, dash: DOT }]),
          yTicks: p.relExp,
          yLabel: "Relative Trace",
          xTicks: p.ticks,
          xTickY: 676.5,
        };
        const rows: LegendRow[] = [
          { label: "epoch", heading: true },
          { label: epochLevels[0], color: EPOCH_COLORS[0] },
          { label: epochLevels[1], color: EPOCH_COLORS[1] },
          { label: epochLevels[2], color: EPOCH_COLORS[2] },
          { label: "trace", heading: true },
          { label: traceKinds[0], color: STYLE_C },
          { label: traceKinds[1], color: STYLE_C, dash: DASH },
          { label: traceKinds[2], color: STYLE_C, dash: DOT },
        ];
        return (
          <g key={p.key}>
            <text x={p.supX} y={409} textAnchor="middle" fontSize={13.5} fill={INK}>
              {p.name}
            </text>
            <text x={p.left + p.width / 2} y={420.5} textAnchor="middle" fontSize={9.6} fill={INK}>
              Trace of covariances: Within- and between-class
            </text>
            <Axes s={upper} />
            <Legend
              x={p.left + 4.5}
              y={428}
              w={72}
              h={109}
              rows={rows}
              rowY={rows.map((_, i) => 8.7 + 13.1 * i)}
              lineX={[3.3, 23.3]}
              textX={28.3}
              fs={8.8}
              headFs={8.8}
              lineW={1.2}
            />
            <Axes s={lower} />
            <text x={p.left + p.width / 2} y={689.5} textAnchor="middle" fontSize={9.6} fill={INK}>
              Layer
            </text>
          </g>
        );
      })}
    </g>
  );
}

/* ---------- CDNV row ---------- */
const cdnvPanels = [
  { key: "mlp", name: "MLP: CIFAR10", left: 72.7, supX: 184, layers: mlpLayers, ticks: mlpLayerTicks, mark: 5, sets: [mlpCdnv10, mlpCdnv100, mlpCdnv350], exp: mlpCdnvExp },
  { key: "conv", name: "Convnet: CIFAR10", left: 448.7, supX: 560.7, layers: convLayers, ticks: convLayerTicks, mark: 13, sets: [convCdnv10, convCdnv100, convCdnv350], exp: convCdnvExp },
  { key: "res", name: "Resnet50: CIFAR10", left: 825.2, supX: 936.7, layers: resLayers, ticks: resLayerTicks, mark: 29, sets: [resCdnv10, resCdnv100, resCdnv350], exp: resCdnvExp },
];

function CdnvRow() {
  const top = 775;
  const w = 285;
  const h = 267;
  return (
    <g>
      {cdnvPanels.map((p) => {
        const spec: AxesSpec = {
          id: "cdnv-" + p.key,
          left: p.left,
          top,
          width: w,
          height: h,
          log: true,
          series: p.sets.map((v, i) => ({ xs: p.layers, ys: v.map(p10), color: EPOCH_COLORS[i], width: 1.8 })),
          xGrid: p.layers,
          yTicks: p.exp,
          tickFs: 13,
          tickGap: 15,
          gridW: 1.2,
          xTicks: p.ticks,
          xTickY: 1066.5,
          marker: p.mark,
          markerW: 1.6,
          markerDash: "5,3",
          yLabel: "CDNV",
          yLabelX: p.left - 56.5,
          yLabelFs: 14.5,
        };
        return (
          <g key={p.key}>
            <text x={p.supX} y={750.5} textAnchor="middle" fontSize={17} fill={INK}>
              {p.name}
            </text>
            <text x={p.left + w / 2} y={768} textAnchor="middle" fontSize={14.5} fill={INK}>
              CDNV
            </text>
            <Axes s={spec} />
            <text x={p.left + w / 2} y={1083} textAnchor="middle" fontSize={14.5} fill={INK}>
              Layer
            </text>
            <Legend
              x={p.left + 6.3}
              y={950.7}
              w={74}
              h={84.3}
              rows={[
                { label: "epoch", heading: true, centered: true },
                { label: epochLevels[0], color: EPOCH_COLORS[0] },
                { label: epochLevels[1], color: EPOCH_COLORS[1] },
                { label: epochLevels[2], color: EPOCH_COLORS[2] },
              ]}
              rowY={[11.3, 31.3, 52, 72]}
              lineX={[5, 32.7]}
              textX={42.7}
              fs={13}
              headFs={14.2}
              lineW={1.8}
            />
          </g>
        );
      })}
    </g>
  );
}

/* ---------- activation ETF row ---------- */
function MathTitle({ kind, x, y, fs }: { kind: "mean" | "std" | "norm"; x: number; y: number; fs: number }) {
  const d = fs * 0.22;
  if (kind === "norm") {
    return (
      <text x={x} y={y} textAnchor="middle" fontSize={fs} fill={INK}>
        {"Relative std of |"}
        <tspan fontStyle="italic">{"\u03bc"}</tspan>
        <tspan fontStyle="italic" fontSize={fs * 0.7} dy={d}>
          i
        </tspan>
        <tspan dy={-d}>{"|"}</tspan>
        <tspan fontSize={fs * 0.7} dy={d}>
          2
        </tspan>
      </text>
    );
  }
  return (
    <text x={x} y={y} textAnchor="middle" fontSize={fs} fill={INK}>
      {kind === "mean" ? "Mean of 1/(1 \u2212 " : "Std of 1/(1 \u2212 "}
      <tspan fontStyle="italic">C</tspan>
      {") + cos("}
      <tspan fontStyle="italic">{"\u03bc"}</tspan>
      <tspan fontStyle="italic" fontSize={fs * 0.7} dy={d}>
        i
      </tspan>
      <tspan dy={-d}>{", "}</tspan>
      <tspan fontStyle="italic">{"\u03bc"}</tspan>
      <tspan fontStyle="italic" fontSize={fs * 0.7} dy={d}>
        j
      </tspan>
      <tspan dy={-d}>{")"}</tspan>
    </text>
  );
}

const etfPanels = [
  {
    key: "mlp", name: "MLP: CIFAR10", left: 37, supX: 190.7, layers: mlpLayers, ticks: mlpLayerTicks, mark: 5,
    mean: [mlpMean10, mlpMean100, mlpMean350], std: [mlpStd10, mlpStd100, mlpStd350], norm: [mlpNorm10, mlpNorm100, mlpNorm350],
    meanT: meanTicks, meanL: meanLabels, stdT: stdTicks, stdL: stdLabels, normT: normTicks, normL: normLabels,
    legX: 269, legY: 3.4, legW: 48, legH: 56.3,
  },
  {
    key: "conv", name: "Convnet: CIFAR10", left: 413.7, supX: 561, layers: convLayers, ticks: convLayerTicks, mark: 13,
    mean: [convMean10, convMean100, convMean350], std: [convStd10, convStd100, convStd350], norm: [convNorm10, convNorm100, convNorm350],
    meanT: meanTicks, meanL: meanLabels, stdT: stdTicks, stdL: stdLabels, normT: normTicks, normL: normLabels,
    legX: 4, legY: 22.7, legW: 49.3, legH: 57,
  },
  {
    key: "res", name: "Resnet50: CIFAR10", left: 790.5, supX: 941.7, layers: resLayers, ticks: resLayerTicks, mark: 29,
    mean: [resMean10, resMean100, resMean350], std: [resStd10, resStd100, resStd350], norm: [resNorm10, resNorm100, resNorm350],
    meanT: resMeanTicks, meanL: resMeanLabels, stdT: stdTicks, stdL: resStdLabels, normT: resNormTicks, normL: resNormLabels,
    legX: 267.5, legY: 2.7, legW: 52, legH: 57,
  },
];

function EtfRow() {
  const w = 323;
  const h = 85.7;
  const tops = [1159.3, 1263.3, 1367.7];
  const titleY = [1153, 1257.7, 1361.7];
  const kinds: ("mean" | "std" | "norm")[] = ["mean", "std", "norm"];
  return (
    <g>
      {etfPanels.map((p) => {
        const sets = [p.mean, p.std, p.norm];
        const ticks = [p.meanT, p.stdT, p.normT];
        const labels = [p.meanL, p.stdL, p.normL];
        return (
          <g key={p.key}>
            <text x={p.supX} y={1143} textAnchor="middle" fontSize={13.5} fill={INK}>
              {p.name}
            </text>
            {kinds.map((k, j) => {
              const spec: AxesSpec = {
                id: `etf-${p.key}-${k}`,
                left: p.left,
                top: tops[j],
                width: w,
                height: h,
                series: sets[j].map((v, i) => ({ xs: p.layers, ys: v, color: EPOCH_COLORS[i], width: 1.3 })),
                xGrid: p.layers,
                yTicks: ticks[j],
                yTickLabels: labels[j],
                tickFs: 9.6,
                tickGap: 6,
                gridW: 0.9,
                marker: p.mark,
                markerW: 1.1,
                markerDash: "4,2.5",
                xTicks: j === 2 ? p.ticks : undefined,
                xTickY: 1468.8,
              };
              return (
                <g key={k}>
                  <MathTitle kind={k} x={p.left + w / 2} y={titleY[j]} fs={9.5} />
                  <Axes s={spec} />
                </g>
              );
            })}
            <Legend
              x={p.left + p.legX}
              y={tops[1] + p.legY}
              w={p.legW}
              h={p.legH}
              rows={[
                { label: "epoch", heading: true, centered: true },
                { label: epochLevels[0], color: EPOCH_COLORS[0] },
                { label: epochLevels[1], color: EPOCH_COLORS[1] },
                { label: epochLevels[2], color: EPOCH_COLORS[2] },
              ]}
              rowY={[9.2, 22, 35.3, 48.6]}
              lineX={[3, 23]}
              textX={27}
              fs={9.3}
              headFs={9.8}
              lineW={1.3}
            />
            <text x={p.left + w / 2} y={1481.5} textAnchor="middle" fontSize={9.6} fill={INK}>
              Layer
            </text>
          </g>
        );
      })}
    </g>
  );
}

/* ---------- captions ---------- */
function RefBox({ x0, x1, y0, y1, color, label, baseline }: { x0: number; x1: number; y0: number; y1: number; color: string; label: string; baseline: number }) {
  return (
    <g>
      <rect x={x0} y={y0} width={x1 - x0} height={y1 - y0} fill="none" stroke={color} strokeWidth={1.6} />
      <text x={(x0 + x1) / 2} y={baseline} textAnchor="middle">
        {label}
      </text>
    </g>
  );
}

function Captions() {
  const fs = 28.5;
  return (
    <g fontFamily={SERIF} fontSize={fs} fill="#000">
      <text x={561} y={391} textAnchor="middle">
        Accuracy per epochs
      </text>

      <text x={648} y={727} textAnchor="end">
        Traces (NC1, see eq.
      </text>
      <RefBox x0={655.5} x1={707.5} y0={702} y1={733} color="#ff0000" label="2.18" baseline={727} />
      <text x={708.5} y={727}>
        )
      </text>

      <text x={608} y={1122} textAnchor="end">
        CDNV (NC1, see [
      </text>
      <RefBox x0={608.5} x1={639} y0={1097} y1={1128} color="#00ff00" label="87" baseline={1122} />
      <text x={639.5} y={1122}>
        ] sec. 3)
      </text>

      <text x={618} y={1517} textAnchor="end">
        Activation ETF (NC2, see eq.
      </text>
      <RefBox x0={624.5} x1={677} y0={1492} y1={1523} color="#ff0000" label="2.19" baseline={1517} />
      <text x={678} y={1517}>
        ,
      </text>
      <RefBox x0={687.5} x1={739.5} y0={1492} y1={1523} color="#ff0000" label="2.20" baseline={1517} />
      <text x={768} y={1517} textAnchor="middle">
        and
      </text>
      <RefBox x0={796.5} x1={848.5} y0={1492} y1={1523} color="#ff0000" label="2.21" baseline={1517} />
      <text x={849.5} y={1517}>
        )
      </text>
    </g>
  );
}

export default function App() {
  return (
    <div style={{ position: "absolute", left: 0, top: 0, width: W, height: H }}>
      <svg width={W} height={H} viewBox={`0 0 ${W} ${H}`} fontFamily={SANS} style={{ display: "block" }}>
        <rect width={W} height={H} fill="#ffffff" />
        <AccuracyRow />
        <TraceRow />
        <CdnvRow />
        <EtfRow />
        <Captions />
      </svg>
    </div>
  );
}
